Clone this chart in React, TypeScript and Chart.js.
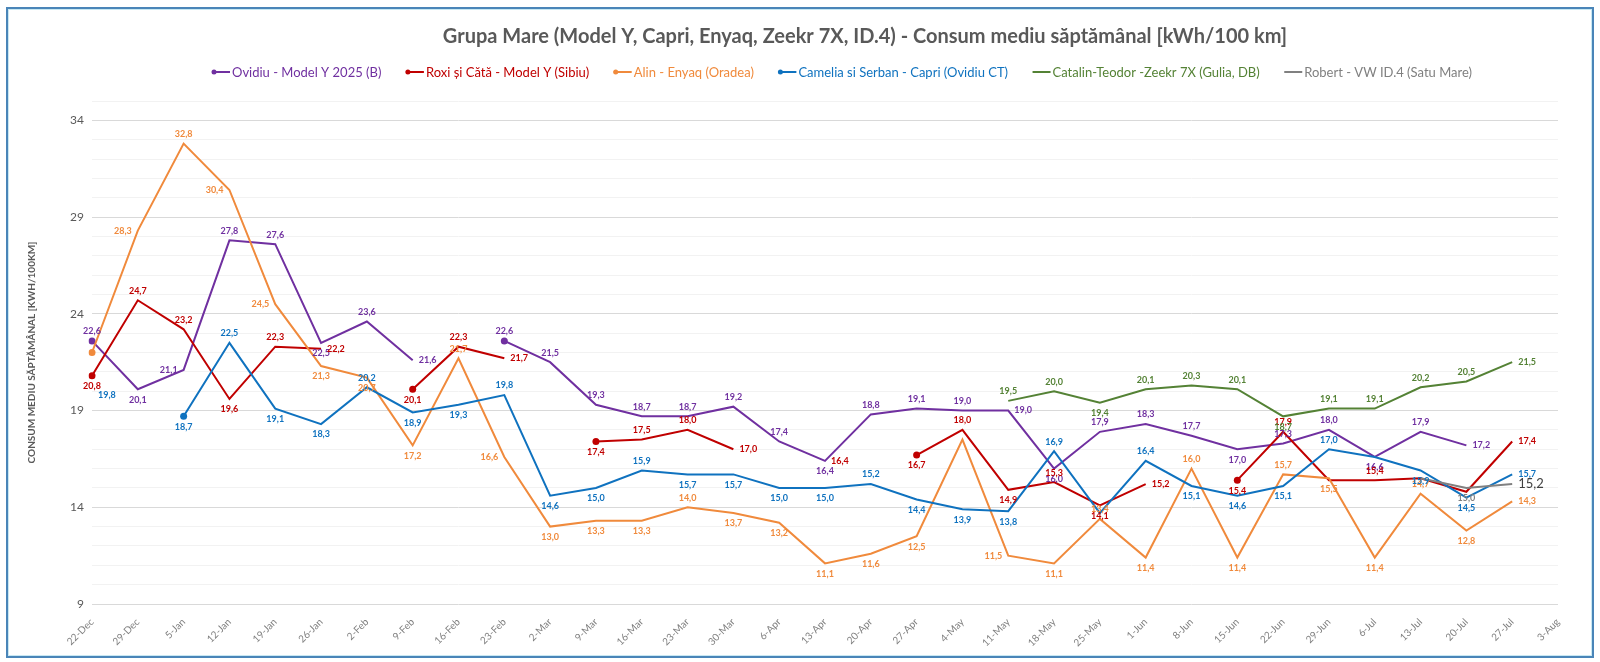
import { useEffect, useRef } from 'react';
import { Chart, registerables, type ChartConfiguration, type Plugin } from 'chart.js';

Chart.register(...registerables);

const weeks = [
  '22-Dec', '29-Dec', '5-Jan', '12-Jan', '19-Jan', '26-Jan', '2-Feb', '9-Feb', '16-Feb', '23-Feb',
  '2-Mar', '9-Mar', '16-Mar', '23-Mar', '30-Mar', '6-Apr', '13-Apr', '20-Apr', '27-Apr', '4-May',
  '11-May', '18-May', '25-May', '1-Jun', '8-Jun', '15-Jun', '22-Jun', '29-Jun', '6-Jul', '13-Jul',
  '20-Jul', '27-Jul', '3-Aug',
];

const ovidiu = [
  22.6, 20.1, 21.1, 27.8, 27.6, 22.5, 23.6, 21.6, null, 22.6, 21.5, 19.3, 18.7, 18.7, 19.2, 17.4,
  16.4, 18.8, 19.1, 19.0, 19.0, 16.0, 17.9, 18.3, 17.7, 17.0, 17.3, 18.0, 16.6, 17.9, 17.2, null, null,
];
const roxi = [
  20.8, 24.7, 23.2, 19.6, 22.3, 22.2, null, 20.1, 22.3, 21.7, null, 17.4, 17.5, 18.0, 17.0, null,
  16.4, null, 16.7, 18.0, 14.9, 15.3, 14.1, 15.2, null, 15.4, 17.9, 15.4, 15.4, 15.5, 14.8, 17.4, null,
];
const alin = [
  22.0, 28.3, 32.8, 30.4, 24.5, 21.3, 20.7, 17.2, 21.7, 16.6, 13.0, 13.3, 13.3, 14.0, 13.7, 13.2,
  11.1, 11.6, 12.5, 17.5, 11.5, 11.1, 13.4, 11.4, 16.0, 11.4, 15.7, 15.5, 11.4, 14.7, 12.8, 14.3, null,
];
const camelia = [
  19.8, null, 18.7, 22.5, 19.1, 18.3, 20.2, 18.9, 19.3, 19.8, 14.6, 15.0, 15.9, 15.7, 15.7, 15.0,
  15.0, 15.2, 14.4, 13.9, 13.8, 16.9, 13.7, 16.4, 15.1, 14.6, 15.1, 17.0, 16.6, 15.9, 14.5, 15.7, null,
];
const catalin = [
  null, null, null, null, null, null, null, null, null, null, null, null, null, null, null, null,
  null, null, null, null, 19.5, 20.0, 19.4, 20.1, 20.3, 20.1, 18.7, 19.1, 19.1, 20.2, 20.5, 21.5, null,
];
const robert = [
  null, null, null, null, null, null, null, null, null, null, null, null, null, null, null, null,
  null, null, null, null, null, null, null, null, null, null, null, null, null, 15.5, 15.0, 15.2, null,
];

// points whose value has no label in the original
const ovidiuNoLabel: number[] = [];
const roxiNoLabel = [27, 29, 30];
const alinNoLabel = [0, 19];
const cameliaNoLabel = [22, 28];
const catalinNoLabel: number[] = [];
const robertNoLabel = [29];

const TITLE = 'Grupa Mare (Model Y, Capri, Enyaq, Zeekr 7X, ID.4) - Consum mediu săptămânal [kWh/100 km]';
const FONT = 'Lato, "Open Sans", sans-serif';

type Val = number | null;
type Pos = 'above' | 'below' | 'right' | 'left';

function isSegStart(vals: Val[], i: number) {
  return vals[i] != null && (i === 0 || vals[i - 1] == null) && vals[i + 1] != null;
}

const fmt = (v: number) => v.toFixed(1).replace('.', ',');

// title + legend, placed like the Excel original (slightly right of centre)
const header: Plugin<'line'> = {
  id: 'header',
  afterDraw(chart) {
    const ctx = chart.ctx;
    ctx.save();
    ctx.font = `bold 20px ${FONT}`;
    ctx.fillStyle = '#595959';
    ctx.textAlign = 'center';
    ctx.textBaseline = 'middle';
    ctx.fillText(TITLE, 865, 37);

    ctx.font = `13px ${FONT}`;
    const sets = chart.data.datasets as any[];
    const icon = 18;
    const widths = sets.map((ds) => icon + 2 + ctx.measureText(ds.label).width);
    const span = 1260;
    const gap = (span - widths.reduce((a, b) => a + b, 0)) / (sets.length - 1);
    let x = 212;
    const y = 72;
    ctx.textAlign = 'left';
    sets.forEach((ds, i) => {
      ctx.strokeStyle = ds.borderColor;
      ctx.fillStyle = ds.borderColor;
      ctx.lineWidth = 2;
      ctx.beginPath();
      ctx.moveTo(x, y);
      ctx.lineTo(x + icon, y);
      ctx.stroke();
      if (ds.dots) {
        ctx.beginPath();
        ctx.arc(x + 2, y, 2.5, 0, Math.PI * 2);
        ctx.fill();
      }
      ctx.fillText(ds.label, x + icon + 2, y + 1);
      x += widths[i] + gap;
    });
    ctx.restore();
  },
};

function labelPos(vals: Val[], i: number, ds: any): Pos {
  const v = vals[i] as number;
  const prev = i > 0 ? vals[i - 1] : null;
  const next = i < vals.length - 1 ? vals[i + 1] : null;
  if (next == null) return 'right';
  if (prev == null) return next > v && ds.dots ? 'below' : 'above';
  if (v > prev && v > next) return 'above';
  if (v < prev && v < next) return 'below';
  if (Math.abs(next - prev) > 6) return 'left';
  if (v === prev && next < v && ds.labelSide === 'above') return 'right';
  return ds.labelSide;
}

const valueLabels: Plugin<'line'> = {
  id: 'valueLabels',
  afterDatasetsDraw(chart) {
    const ctx = chart.ctx;
    ctx.save();
    chart.data.datasets.forEach((ds: any, di) => {
      const meta = chart.getDatasetMeta(di);
      const vals = ds.data as Val[];
      let last = -1;
      vals.forEach((v, i) => { if (v != null) last = i; });
      meta.data.forEach((pt: any, i) => {
        const v = vals[i];
        if (v == null || (ds.noLabel as number[]).includes(i)) return;
        const pos = labelPos(vals, i, ds);
        const big = ds.bigLast && i === last;
        ctx.font = big ? `13px ${FONT}` : `bold 9px ${FONT}`;
        ctx.fillStyle = big ? '#404040' : ds.borderColor;
        const x = pt.x;
        const y = pt.y;
        if (pos === 'right') {
          ctx.textAlign = 'left';
          ctx.textBaseline = 'middle';
          ctx.fillText(fmt(v), x + 6, y);
        } else if (pos === 'left') {
          ctx.textAlign = 'right';
          ctx.textBaseline = 'middle';
          ctx.fillText(fmt(v), x - 6, y);
        } else if (pos === 'above') {
          ctx.textAlign = 'center';
          ctx.textBaseline = 'bottom';
          ctx.fillText(fmt(v), x, y - 5);
        } else {
          ctx.textAlign = 'center';
          ctx.textBaseline = 'top';
          ctx.fillText(fmt(v), x, y + 6);
        }
      });
    });
    ctx.restore();
  },
};

function series(
  label: string, data: Val[], color: string, dots: boolean, noLabel: number[], labelSide: Pos, bigLast = false,
) {
  return {
    label,
    data,
    borderColor: color,
    backgroundColor: color,
    borderWidth: 2,
    tension: 0,
    spanGaps: false,
    pointRadius: (c: any) => (dots && isSegStart(data, c.dataIndex) ? 3.5 : 0),
    pointHoverRadius: 0,
    pointBorderWidth: 0,
    dots,
    noLabel,
    labelSide,
    bigLast,
  };
}

export default function App() {
  const canvasRef = useRef<HTMLCanvasElement>(null);
  const chartRef = useRef<Chart | null>(null);

  useEffect(() => {
    if (!canvasRef.current) return;

    const datasets = [
      series('Ovidiu - Model Y 2025 (B)', ovidiu, '#7030A0', true, ovidiuNoLabel, 'above'),
      series('Roxi și Cătă - Model Y (Sibiu)', roxi, '#C00000', true, roxiNoLabel, 'above'),
      series('Alin - Enyaq (Oradea)', alin, '#F08A3C', true, alinNoLabel, 'below'),
      series('Camelia si Serban - Capri (Ovidiu CT)', camelia, '#0F72BF', true, cameliaNoLabel, 'below'),
      series('Catalin-Teodor -Zeekr 7X (Gulia, DB)', catalin, '#548235', false, catalinNoLabel, 'above'),
      series('Robert - VW ID.4 (Satu Mare)', robert, '#808080', false, robertNoLabel, 'above', true),
    ].map((d, i) => ({ ...d, order: -i }));

    const config: ChartConfiguration<'line'> = {
      type: 'line',
      data: { labels: weeks, datasets: datasets as any },
      options: {
        responsive: false,
        animation: false,
        events: [],
        layout: { padding: { left: 0, right: 42, top: 101, bottom: 0 } },
        plugins: {
          title: { display: false },
          legend: { display: false },
          tooltip: { enabled: false },
        },
        scales: {
          x: {
            type: 'category',
            offset: false,
            grid: { display: false },
            border: { display: false },
            ticks: {
              autoSkip: false,
              minRotation: 45,
              maxRotation: 45,
              padding: 4,
              color: '#7F7F7F',
              font: { family: FONT, size: 10 },
            },
            afterFit: (s: any) => { s.height = 58; },
          },
          y: {
            min: 9,
            max: 35,
            border: { display: false },
            grid: {
              drawTicks: false,
              color: (c: any) => ((c.tick.value - 9) % 5 === 0 ? '#D9D9D9' : '#F2F2F2'),
              lineWidth: 1,
            },
            ticks: {
              stepSize: 1,
              autoSkip: false,
              padding: 8,
              color: '#595959',
              font: { family: FONT, size: 12 },
              callback: (v: any) => ((Number(v) - 9) % 5 === 0 ? String(v) : ''),
            },
            title: {
              display: true,
              text: 'CONSUM MEDIU SĂPTĂMÂNAL [KWH/100KM]',
              color: '#595959',
              font: { family: FONT, size: 10, weight: 'bold' },
              padding: { top: 26, bottom: 0 },
            },
            afterFit: (s: any) => { s.width = 92; },
          },
        },
      },
      plugins: [valueLabels, header],
    };

    chartRef.current = new Chart(canvasRef.current, config);
    return () => { chartRef.current?.destroy(); chartRef.current = null; };
  }, []);

  return (
    <div style={{ position: 'fixed', left: 0, top: 0, width: 1600, height: 662, background: '#fff' }}>
      <canvas
        ref={canvasRef}
        width={1600}
        height={662}
        aria-label={TITLE}
        role="img"
        style={{ position: 'absolute', left: 0, top: 0 }}
      />
      <div
        style={{
          position: 'absolute', left: 6, top: 7, width: 1588, height: 651, boxSizing: 'border-box',
          border: '2px solid #4A85B8', boxShadow: 'inset 0 0 0 1px #C8E8F3', pointerEvents: 'none',
        }}
      />
    </div>
  );
}
